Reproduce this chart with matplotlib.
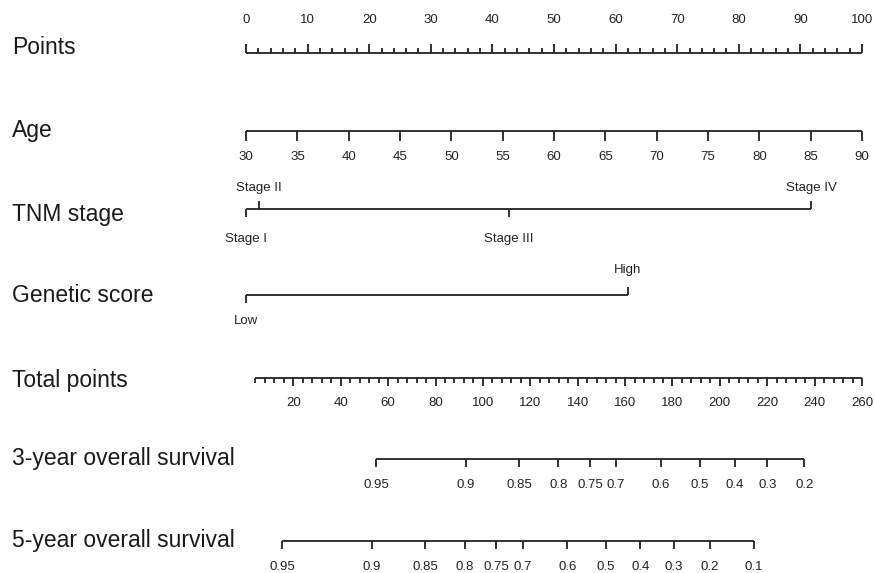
import numpy as np
import matplotlib.pyplot as plt
from matplotlib.transforms import blended_transform_factory

plt.rcParams['font.family'] = ['Liberation Sans', 'DejaVu Sans']

# --- nomogram data (points scale 0-100, total points 0-260) ---
row_labels = ['Points', 'Age', 'TNM stage', 'Genetic score', 'Total points',
              '3-year overall survival', '5-year overall survival']

age_values = np.arange(30, 95, 5)
age_points = (age_values - 30) / 60 * 100

tnm_labels = ['Stage I', 'Stage II', 'Stage III', 'Stage IV']
tnm_points = [0, 2.1, 42.7, 91.8]

gene_labels = ['Low', 'High']
gene_points = [0, 62.0]

total_max = 260
total_major = np.arange(20, 261, 20)
total_minor = np.arange(4, 261, 4)

surv_labels_3y = ['0.95', '0.9', '0.85', '0.8', '0.75', '0.7', '0.6', '0.5', '0.4', '0.3', '0.2']
surv_total_3y = [54.9, 92.7, 115.4, 131.8, 145.2, 156.2, 175.1, 191.5, 206.2, 220.1, 235.6]

surv_labels_5y = ['0.95', '0.9', '0.85', '0.8', '0.75', '0.7', '0.6', '0.5', '0.4', '0.3', '0.2', '0.1']
surv_total_5y = [15.2, 53.0, 75.7, 92.5, 105.6, 116.8, 135.6, 151.8, 166.5, 180.5, 195.8, 214.4]

row_y = [48, 131, 215, 296, 380, 458, 541]

W, H = 875, 573
fig = plt.figure(figsize=(W / 100, H / 100), dpi=100)
ax = fig.add_axes([246 / W, 0, (862 - 246) / W, 1])
ax.set_xlim(0, 100)
ax.set_ylim(H, 0)
ax.axis('off')

LC = '#222222'
LW = 1.3
TFS = 9.5

def tp2pts(tp):
    return np.asarray(tp, dtype=float) * 100 / total_max

def hline(x0, x1, y):
    ax.plot([x0, x1], [y, y], color=LC, lw=LW, solid_capstyle='butt', clip_on=False)

def tick(x, y, length):
    ax.plot([x, x], [y, y + length], color=LC, lw=LW, solid_capstyle='butt', clip_on=False)

def label(x, y, s):
    ax.text(x, y, s, ha='center', va='center', fontsize=TFS, color=LC, clip_on=False)

# Points
y = 53
hline(0, 100, y)
for v in np.arange(0, 101, 2):
    tick(v, y, -9 if v % 10 == 0 else -5)
for v in np.arange(0, 101, 10):
    label(v, 20, str(v))

# Age
y = 131
hline(0, 100, y)
for v, p in zip(age_values, age_points):
    tick(p, y, 10)
    label(p, 157, str(v))

# TNM stage
y = 209
hline(min(tnm_points), max(tnm_points), y)
for i, (s, p) in enumerate(zip(tnm_labels, tnm_points)):
    if i % 2 == 0:
        tick(p, y, 8)
        label(p, 239, s)
    else:
        tick(p, y, -8)
        label(p, 188, s)

# Genetic score
y = 295
hline(min(gene_points), max(gene_points), y)
tick(gene_points[0], y, 8)
label(gene_points[0], 321, gene_labels[0])
tick(gene_points[1], y, -8)
label(gene_points[1], 270, gene_labels[1])

# Total points
y = 378
hline(tp2pts(total_minor[0]), tp2pts(total_max), y)
for v in total_minor:
    tick(tp2pts(v), y, 8 if v % 20 == 0 else 5)
for v in total_major:
    label(tp2pts(v), 403, str(v))

# Survival scales
for labs, tps, y in [(surv_labels_3y, surv_total_3y, 459),
                     (surv_labels_5y, surv_total_5y, 541)]:
    xs = tp2pts(tps)
    hline(xs.min(), xs.max(), y)
    for s, xv in zip(labs, xs):
        tick(xv, y, 8)
        label(xv, y + 26, s)

# Row labels
trans = blended_transform_factory(fig.transFigure, ax.transData)
for s, yv in zip(row_labels, row_y):
    ax.text(12 / W, yv, s, transform=trans, ha='left', va='center',
            fontsize=16.5, color='#1a1a1a', clip_on=False)

fig.savefig('out.png', dpi=100, facecolor='white')
